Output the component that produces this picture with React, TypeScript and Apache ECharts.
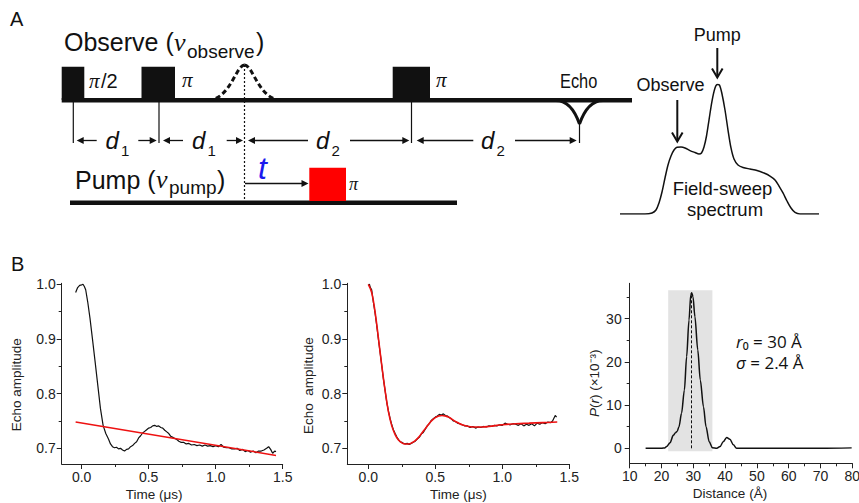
import React, { useEffect, useRef } from 'react';
import * as echarts from 'echarts';

// ---------- Panel B (left): raw DEER trace with background ----------
const trace1Time = [-0.045, -0.03, -0.015, 0.0, 0.01, 0.02, 0.03, 0.045, 0.062, 0.08, 0.1, 0.12, 0.14, 0.16, 0.18, 0.2, 0.215, 0.23, 0.245, 0.26, 0.275, 0.29, 0.305, 0.32, 0.335, 0.35, 0.365, 0.38, 0.395, 0.41, 0.425, 0.44, 0.455, 0.47, 0.485, 0.5, 0.515, 0.53, 0.545, 0.56, 0.575, 0.59, 0.605, 0.62, 0.635, 0.65, 0.665, 0.68, 0.695, 0.71, 0.725, 0.74, 0.76, 0.78, 0.8, 0.82, 0.84, 0.86, 0.88, 0.9, 0.92, 0.94, 0.96, 0.98, 1.0, 1.02, 1.04, 1.06, 1.08, 1.1, 1.12, 1.14, 1.16, 1.18, 1.2, 1.22, 1.24, 1.26, 1.28, 1.3, 1.32, 1.34, 1.36, 1.38, 1.395, 1.41, 1.425, 1.44, 1.45];
const trace1Echo = [0.985, 0.994, 0.998, 0.999, 1.0, 0.996, 0.99, 0.968, 0.938, 0.901, 0.859, 0.816, 0.773, 0.742, 0.727, 0.717, 0.708, 0.703, 0.701, 0.702, 0.699, 0.7, 0.697, 0.695, 0.698, 0.699, 0.703, 0.705, 0.709, 0.712, 0.719, 0.723, 0.728, 0.731, 0.734, 0.737, 0.738, 0.741, 0.742, 0.74, 0.741, 0.738, 0.737, 0.733, 0.73, 0.727, 0.722, 0.72, 0.718, 0.716, 0.713, 0.711, 0.711, 0.708, 0.709, 0.706, 0.707, 0.705, 0.706, 0.704, 0.706, 0.704, 0.705, 0.703, 0.705, 0.703, 0.707, 0.702, 0.701, 0.701, 0.699, 0.699, 0.7, 0.696, 0.698, 0.694, 0.696, 0.693, 0.695, 0.692, 0.695, 0.695, 0.697, 0.7, 0.703, 0.698, 0.691, 0.695, 0.694];
const backgroundTime = [-0.045, 1.45];
const backgroundEcho = [0.748, 0.687];

// ---------- Panel B (middle): background-corrected trace and fit ----------
const trace2Time = [0.0, 0.008, 0.015, 0.025, 0.037, 0.05, 0.062, 0.075, 0.087, 0.1, 0.112, 0.125, 0.137, 0.15, 0.162, 0.175, 0.187, 0.2, 0.212, 0.225, 0.237, 0.25, 0.262, 0.275, 0.29, 0.305, 0.32, 0.335, 0.35, 0.365, 0.38, 0.395, 0.41, 0.425, 0.44, 0.455, 0.47, 0.485, 0.5, 0.515, 0.53, 0.545, 0.56, 0.575, 0.59, 0.605, 0.62, 0.635, 0.65, 0.665, 0.68, 0.7, 0.72, 0.74, 0.76, 0.78, 0.8, 0.82, 0.84, 0.86, 0.88, 0.9, 0.92, 0.94, 0.96, 0.98, 1.0, 1.02, 1.04, 1.06, 1.08, 1.1, 1.12, 1.14, 1.16, 1.18, 1.2, 1.22, 1.24, 1.26, 1.28, 1.3, 1.32, 1.34, 1.36, 1.375, 1.385, 1.395, 1.405];
const trace2Echo = [0.998, 1.0, 0.994, 0.99, 0.968, 0.948, 0.926, 0.9, 0.877, 0.852, 0.828, 0.806, 0.785, 0.768, 0.755, 0.743, 0.734, 0.727, 0.721, 0.716, 0.712, 0.711, 0.709, 0.708, 0.709, 0.707, 0.709, 0.711, 0.713, 0.717, 0.72, 0.726, 0.729, 0.735, 0.741, 0.745, 0.751, 0.754, 0.757, 0.759, 0.762, 0.761, 0.763, 0.76, 0.759, 0.756, 0.754, 0.75, 0.749, 0.746, 0.745, 0.743, 0.741, 0.741, 0.738, 0.74, 0.737, 0.739, 0.738, 0.74, 0.739, 0.741, 0.74, 0.742, 0.741, 0.743, 0.742, 0.746, 0.744, 0.743, 0.745, 0.744, 0.742, 0.745, 0.741, 0.744, 0.742, 0.745, 0.741, 0.746, 0.744, 0.747, 0.745, 0.748, 0.747, 0.75, 0.755, 0.76, 0.757];
const fit2Time = [0.0, 0.025, 0.05, 0.075, 0.1, 0.125, 0.15, 0.175, 0.2, 0.225, 0.25, 0.275, 0.3, 0.325, 0.35, 0.375, 0.4, 0.425, 0.45, 0.475, 0.5, 0.525, 0.55, 0.575, 0.6, 0.625, 0.65, 0.675, 0.7, 0.75, 0.8, 0.85, 0.9, 1.0, 1.1, 1.2, 1.3, 1.41];
const fit2Echo = [1.0, 0.985, 0.95, 0.902, 0.852, 0.806, 0.767, 0.741, 0.725, 0.715, 0.71, 0.708, 0.708, 0.71, 0.714, 0.72, 0.728, 0.736, 0.744, 0.751, 0.756, 0.759, 0.76, 0.759, 0.757, 0.753, 0.749, 0.746, 0.743, 0.74, 0.739, 0.739, 0.74, 0.743, 0.745, 0.746, 0.747, 0.748];

// ---------- Panel B (right): distance distribution ----------
const distR = [15, 18, 20, 21, 21.6, 22.7, 23.7, 24.4, 24.9, 25.5, 26.3, 27.2, 27.9, 28.65, 29.2, 29.5, 29.9, 30.5, 31.4, 32.2, 33.2, 34.0, 35.0, 36.0, 37.4, 38.4, 39.4, 40.5, 41.5, 42.6, 43.6, 50, 60, 70, 79.8];
const distP = [0, 0, 0, 0.1, 0.4, 1.3, 3.0, 3.6, 3.9, 5.0, 8.1, 13.5, 21.2, 29.7, 35.5, 36.0, 35.1, 30.5, 22.8, 15.8, 9.6, 5.0, 1.5, 0.15, 0, 0.4, 1.5, 2.5, 2.1, 0.8, 0, 0, 0, 0, 0.1];
const bandR = [22.1, 36.0];
const bandP = [-0.7, 36.6];
const meanR = 29.5;
const peakP = 36.0;

// ---------- Panel A: field-sweep spectrum (arbitrary field units) ----------
const fieldPos = [0, 25, 32, 36, 39, 42, 45, 48, 51, 54, 57, 61, 65, 70, 75, 79, 81.5, 84, 86.5, 89, 92, 95, 97.3, 99.5, 102, 105, 108, 111, 114, 118, 123, 130, 137, 144, 150, 155, 159, 163, 167, 171, 175, 180, 199];
const fieldInt = [0, 0, 0.008, 0.031, 0.085, 0.169, 0.277, 0.377, 0.446, 0.492, 0.513, 0.515, 0.508, 0.488, 0.473, 0.462, 0.469, 0.515, 0.6, 0.723, 0.869, 0.969, 0.996, 0.992, 0.923, 0.8, 0.646, 0.508, 0.423, 0.377, 0.358, 0.346, 0.335, 0.315, 0.292, 0.262, 0.215, 0.162, 0.1, 0.046, 0.012, 0, 0];

// ---------- tick values ----------
const timeTicks = [0, 0.5, 1.0, 1.5];
const timeMinor = [0.25, 0.75, 1.25];
const echoTicks = [0.7, 0.8, 0.9, 1.0];
const echoMinor = [0.75, 0.85, 0.95];
const distTicks = [10, 20, 30, 40, 50, 60, 70, 80];
const distMinor = [15, 25, 35, 45, 55, 65, 75];
const pTicks = [0, 10, 20, 30];
const pMinor = [5, 15, 25, 35];

const SANS = 'Liberation Sans, Arial, sans-serif';
const SERIF = 'Liberation Serif, Times New Roman, serif';
const OPEN = 'Open Sans, sans-serif';
const INK = '#111';
const AX = '#222';

const zip = (a: number[], b: number[]) => a.map((v, i) => [v, b[i]]);

function T(x: number, base: number, text: string, fs: number, o: any = {}) {
  const fam = o.family || SANS;
  const k = fam === SERIF ? 0.338 : fam === OPEN ? 0.388 : 0.347;
  const style: any = {
    text, fontSize: fs, fontFamily: fam, fontStyle: o.italic ? 'italic' : 'normal',
    fontWeight: o.bold ? 'bold' : 'normal', fill: o.color || INK, align: o.align || 'left', verticalAlign: 'middle',
  };
  if (o.rich) style.rich = o.rich;
  return { type: 'text', x, y: base - k * fs, scaleX: o.scaleX ?? 1, silent: true, z: 10, style };
}

function arrowH(from: number, to: number, y: number, lw = 1.3) {
  const d = Math.sign(to - from);
  return [
    { type: 'line', silent: true, z: 10, shape: { x1: from, y1: y, x2: to - d * 4, y2: y }, style: { stroke: INK, lineWidth: lw } },
    { type: 'polygon', silent: true, z: 10, shape: { points: [[to, y], [to - d * 7, y - 3.5], [to - d * 7, y + 3.5]] }, style: { fill: INK } },
  ];
}

function vline(x: number, y1: number, y2: number, lw = 1.2, dash: any = null) {
  return { type: 'line', silent: true, z: 10, shape: { x1: x, y1, x2: x, y2 }, style: { stroke: INK, lineWidth: lw, lineDash: dash } };
}

function rect(x1: number, y1: number, x2: number, y2: number, fill = INK) {
  return { type: 'rect', silent: true, z: 9, shape: { x: x1, y: y1, width: x2 - x1, height: y2 - y1 }, style: { fill } };
}

function buildGraphic() {
  const g: any[] = [];
  g.push(T(10, 26, 'A', 20));
  g.push(T(11, 271, 'B', 20));

  // Observe channel
  g.push(T(64, 51, 'Observe (', 25));
  g.push(T(174, 51, 'ν', 26, { family: SERIF, italic: true }));
  g.push(T(187, 58, 'observe', 19));
  g.push(T(256, 51, ')', 25));
  g.push(rect(61.7, 98, 632, 102.5));
  g.push(rect(61.7, 66.7, 84.3, 100));
  g.push(rect(141.5, 66.7, 175, 100));
  g.push(rect(392.7, 66.7, 430, 100));
  g.push(T(89, 88, 'π', 21, { family: SERIF, italic: true }));
  g.push(T(101, 88, '/2', 20));
  g.push(T(182, 87, 'π', 21, { family: SERIF, italic: true }));
  g.push(T(436, 87, 'π', 21, { family: SERIF, italic: true }));
  // dashed pulse
  g.push({ type: 'bezierCurve', silent: true, z: 10, shape: { x1: 208, y1: 100, cpx1: 230, cpy1: 100, cpx2: 236, cpy2: 65, x2: 244.5, y2: 65 }, style: { stroke: INK, lineWidth: 3, fill: null, lineDash: [5, 3] } });
  g.push({ type: 'bezierCurve', silent: true, z: 10, shape: { x1: 244.5, y1: 65, cpx1: 253, cpy1: 65, cpx2: 259, cpy2: 100, x2: 281, y2: 100 }, style: { stroke: INK, lineWidth: 3, fill: null, lineDash: [5, 3] } });
  // echo
  g.push(T(560, 88, 'Echo', 20, { scaleX: 0.82 }));
  g.push({ type: 'bezierCurve', silent: true, z: 10, shape: { x1: 556, y1: 100.5, cpx1: 570, cpy1: 100.5, cpx2: 576, cpy2: 114, x2: 579.5, y2: 124 }, style: { stroke: INK, lineWidth: 3, fill: null } });
  g.push({ type: 'bezierCurve', silent: true, z: 10, shape: { x1: 579.5, y1: 124, cpx1: 583, cpy1: 114, cpx2: 589, cpy2: 100.5, x2: 603, y2: 100.5 }, style: { stroke: INK, lineWidth: 3, fill: null } });

  // timing marks
  g.push(vline(73.3, 100, 143));
  g.push(vline(159, 100, 143));
  g.push(vline(411.5, 100, 143));
  g.push(vline(579.5, 124, 143));
  g.push(vline(244.5, 65, 203, 1.2, [2, 2]));
  g.push(...arrowH(96.7, 76.7, 140.5));
  g.push(...arrowH(138.3, 156.7, 140.5));
  g.push(...arrowH(183, 163, 140.5));
  g.push(...arrowH(226.7, 243, 140.5));
  g.push(...arrowH(308, 248, 140.5));
  g.push(...arrowH(350, 409.3, 140.5));
  g.push(...arrowH(473.3, 416.7, 140.5));
  g.push(...arrowH(515, 576.7, 140.5));
  const dl = (x: number, sub: string) => {
    g.push(T(x, 148.5, 'd', 24, { italic: true }));
    g.push(T(x + 15.5, 155.5, sub, 15));
  };
  dl(105.5, '1');
  dl(192, '1');
  dl(316, '2');
  dl(481, '2');

  // Pump channel
  g.push(T(75, 188.5, 'Pump (', 25));
  g.push(T(156, 188.5, 'ν', 26, { family: SERIF, italic: true }));
  g.push(T(169, 194, 'pump', 19));
  g.push(T(217, 188.5, ')', 25));
  g.push(rect(70, 200.5, 457, 205));
  g.push(rect(309.3, 167.7, 346, 201, '#ff0000'));
  g.push(T(349, 190, 'π', 18, { family: SERIF, italic: true }));
  g.push(T(258, 179, 't', 32, { italic: true, color: '#1a1aee' }));
  g.push(...arrowH(245, 308.5, 183.5));

  // spectrum annotations
  g.push(T(717.3, 41, 'Pump', 18, { align: 'center' }));
  g.push({ type: 'line', silent: true, z: 10, shape: { x1: 717.3, y1: 48, x2: 717.3, y2: 77 }, style: { stroke: INK, lineWidth: 2 } });
  g.push({ type: 'polyline', silent: true, z: 10, shape: { points: [[712, 68.5], [717.3, 77.5], [722.6, 68.5]] }, style: { stroke: INK, lineWidth: 2, fill: null } });
  g.push(T(670.5, 91.5, 'Observe', 18, { align: 'center' }));
  g.push({ type: 'line', silent: true, z: 10, shape: { x1: 677.3, y1: 100, x2: 677.3, y2: 141 }, style: { stroke: INK, lineWidth: 2 } });
  g.push({ type: 'polyline', silent: true, z: 10, shape: { points: [[672, 132.5], [677.3, 141.5], [682.6, 132.5]] }, style: { stroke: INK, lineWidth: 2, fill: null } });
  g.push(T(722.5, 195, 'Field-sweep', 18.5, { align: 'center' }));
  g.push(T(725, 215.5, 'spectrum', 18.5, { align: 'center' }));

  // distance annotation
  const richI = { i: { fontStyle: 'italic', fontSize: 17, fontFamily: OPEN, fill: INK } };
  g.push(T(736, 348.3, '{i|r}₀ = 30 Å', 17, { family: OPEN, rich: richI }));
  g.push(T(736, 369.3, '{i|σ} = 2.4 Å', 17, { family: OPEN, rich: richI }));
  return g;
}

function majorAxis(gridIndex: number, min: number, max: number, ticks: number[], fmt: (v: number) => string, pos: string, extra: any = {}) {
  return {
    type: 'value', gridIndex, min, max, position: pos,
    axisLine: { show: true, onZero: false, lineStyle: { color: AX, width: 1 } },
    axisTick: { show: true, inside: false, length: 5, customValues: ticks, lineStyle: { color: AX, width: 1 } },
    axisLabel: { show: true, customValues: ticks, formatter: fmt, fontSize: 14, color: AX, fontFamily: SANS, margin: 6 },
    splitLine: { show: false },
    ...extra,
  };
}
function minorAxis(gridIndex: number, min: number, max: number, ticks: number[], pos: string) {
  return {
    type: 'value', gridIndex, min, max, position: pos,
    axisLine: { show: false, onZero: false },
    axisTick: { show: true, inside: false, length: 3, customValues: ticks, lineStyle: { color: AX, width: 1 } },
    axisLabel: { show: false },
    splitLine: { show: false },
  };
}

const nameStyle = (pad: number[]) => ({ fontSize: 13.5, color: AX, fontFamily: SANS, padding: pad });

export default function App() {
  const ref = useRef<HTMLDivElement>(null);
  useEffect(() => {
    if (!ref.current) return;
    const chart = echarts.init(ref.current, null, { renderer: 'svg' });
    const f1 = (v: number) => v.toFixed(1);
    const f0 = (v: number) => String(Math.round(v));
    const yLo = 0.6713, yHi = 1.0018;
    const option: any = {
      animation: false,
      backgroundColor: '#fff',
      grid: [
        { left: 61.7, top: 283.3, width: 221, height: 180.7, outerBoundsMode: 'none' },
        { left: 347.3, top: 283.3, width: 222, height: 180.7, outerBoundsMode: 'none' },
        { left: 629.7, top: 283.3, width: 222.6, height: 180, outerBoundsMode: 'none' },
        { left: 620, top: 84, width: 199, height: 130, outerBoundsMode: 'none' },
      ],
      xAxis: [
        majorAxis(0, -0.149, 1.5, timeTicks, f1, 'bottom', { name: 'Time (μs)', nameLocation: 'middle', nameGap: 23, nameTextStyle: nameStyle([0, 36, 0, 0]) }),
        minorAxis(0, -0.149, 1.5, timeMinor, 'bottom'),
        majorAxis(1, -0.157, 1.5, timeTicks, f1, 'bottom', { name: 'Time (μs)', nameLocation: 'middle', nameGap: 23, nameTextStyle: nameStyle([0, 0, 0, 0]) }),
        minorAxis(1, -0.157, 1.5, timeMinor, 'bottom'),
        majorAxis(2, 10, 80, distTicks, f0, 'bottom', { name: 'Distance (Å)', nameLocation: 'middle', nameGap: 23, nameTextStyle: nameStyle([0, 22, 0, 0]) }),
        minorAxis(2, 10, 80, distMinor, 'bottom'),
        { type: 'value', gridIndex: 3, min: 0, max: 199, show: false },
      ],
      yAxis: [
        majorAxis(0, yLo, yHi, echoTicks, f1, 'left', { name: 'Echo amplitude', nameLocation: 'middle', nameGap: 38, nameTextStyle: nameStyle([0, 22, 0, 0]) }),
        minorAxis(0, yLo, yHi, echoMinor, 'left'),
        majorAxis(1, yLo, yHi, echoTicks, f1, 'left', { name: 'Echo  amplitude', nameLocation: 'middle', nameGap: 32, nameTextStyle: nameStyle([0, 24, 0, 0]) }),
        minorAxis(1, yLo, yHi, echoMinor, 'left'),
        majorAxis(2, -3.47, 38.19, pTicks, f0, 'left', {
          name: '{i|P}({i|r}) (×10⁻³)', nameLocation: 'middle', nameGap: 28,
          nameTextStyle: { ...nameStyle([0, 20, 0, 0]), rich: { i: { fontStyle: 'italic', fontSize: 13.5, color: AX, fontFamily: SANS } } },
          axisLabel: { show: true, customValues: pTicks, formatter: f0, fontSize: 14, color: AX, fontFamily: SANS, margin: 8 },
        }),
        minorAxis(2, -3.47, 38.19, pMinor, 'left'),
        { type: 'value', gridIndex: 3, min: 0, max: 1, show: false },
      ],
      series: [
        { type: 'line', xAxisIndex: 0, yAxisIndex: 0, data: zip(trace1Time, trace1Echo), symbol: 'none', lineStyle: { color: INK, width: 1.2 }, z: 3 },
        { type: 'line', xAxisIndex: 0, yAxisIndex: 0, data: zip(backgroundTime, backgroundEcho), symbol: 'none', lineStyle: { color: '#ee1111', width: 1.5 }, z: 4 },
        { type: 'line', xAxisIndex: 2, yAxisIndex: 2, data: zip(trace2Time, trace2Echo), symbol: 'none', lineStyle: { color: INK, width: 1.2 }, z: 3 },
        { type: 'line', xAxisIndex: 2, yAxisIndex: 2, data: zip(fit2Time, fit2Echo), symbol: 'none', smooth: 0.4, lineStyle: { color: '#ee1111', width: 1.6 }, z: 4 },
        {
          type: 'line', xAxisIndex: 4, yAxisIndex: 4, data: [], symbol: 'none', z: 1,
          markArea: { silent: true, itemStyle: { color: '#e3e3e3' }, data: [[{ coord: [bandR[0], bandP[0]] }, { coord: [bandR[1], bandP[1]] }]] },
        },
        {
          type: 'line', xAxisIndex: 4, yAxisIndex: 4, data: zip(distR, distP), symbol: 'none', smooth: 0.3, smoothMonotone: 'x',
          lineStyle: { color: INK, width: 1.5 }, z: 3,
          markLine: { silent: true, symbol: ['none', 'none'], label: { show: false }, lineStyle: { color: INK, width: 1, type: [3, 2] },
            data: [[{ coord: [meanR, 0] }, { coord: [meanR, peakP] }]] },
        },
        { type: 'line', xAxisIndex: 6, yAxisIndex: 6, data: zip(fieldPos, fieldInt), symbol: 'none', smooth: 0.3, lineStyle: { color: INK, width: 1.5 }, z: 3 },
      ],
      graphic: buildGraphic(),
    };
    chart.setOption(option);
    return () => chart.dispose();
  }, []);
  return <div ref={ref} style={{ position: 'fixed', left: 0, top: 0, width: 859, height: 503, background: '#fff' }} />;
}
